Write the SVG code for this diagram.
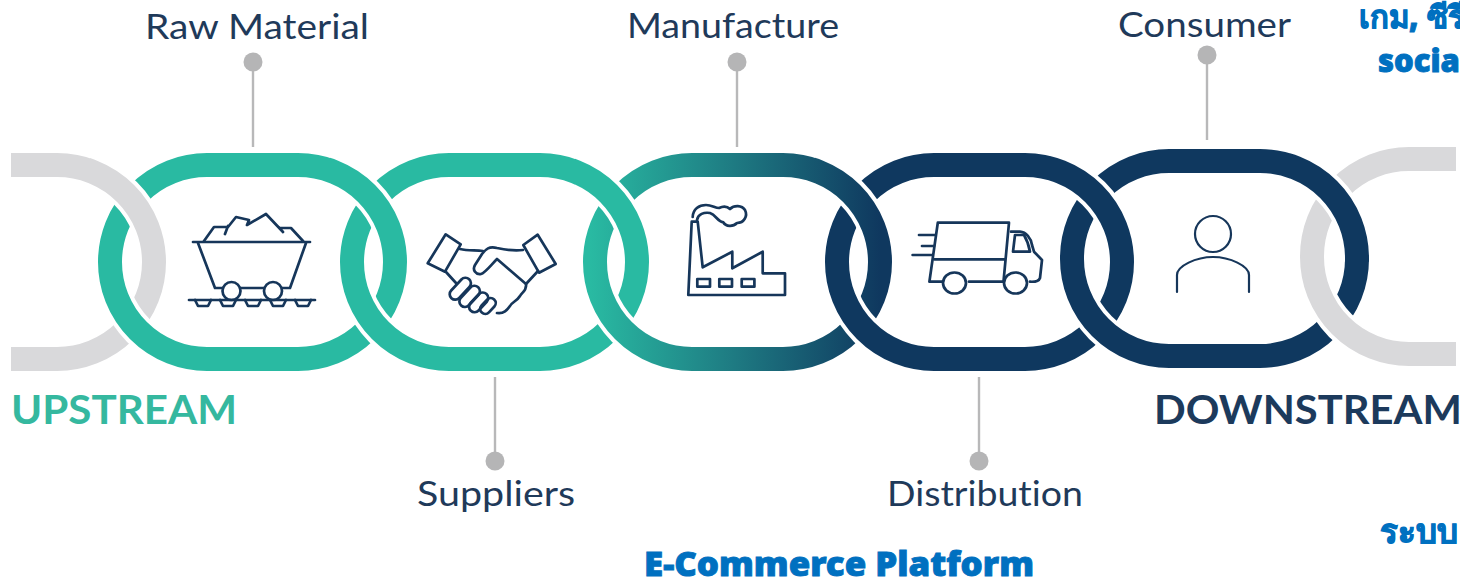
<svg xmlns="http://www.w3.org/2000/svg" width="1462" height="579" viewBox="0 0 1462 579">
<style>
.halo{fill:none;stroke:#fff;stroke-width:32}
.ring{fill:none;stroke-width:24}
.teal{stroke:#29BAA2}.navy{stroke:#0F385F}.grey{stroke:#D9D9DB}.grad{stroke:url(#g3)}
.icon{fill:none;stroke:#16365A;stroke-width:2.700;stroke-linejoin:round;stroke-linecap:round}
.label{font-family:"Lato","Noto Sans",sans-serif;font-size:35px;fill:#1F3A5A;font-variant-ligatures:none}
.stream{font-family:"Lato","Noto Sans",sans-serif;font-weight:700;font-size:41px}
.blue{font-family:"Noto Sans","Inter",sans-serif;font-weight:900;fill:#0070C0;stroke:#0070C0;stroke-width:.9px}
.stem{stroke:#B8B8B9;stroke-width:2.4;fill:none}
.dot{fill:#B5B5B6}
</style>
<defs>
<linearGradient id="g3" gradientUnits="userSpaceOnUse" x1="590" y1="0" x2="880" y2="0">
<stop offset="0" stop-color="#29BAA2"/><stop offset="0.5" stop-color="#1E7A82"/><stop offset="1" stop-color="#0F385F"/>
</linearGradient>
<clipPath id="cl"><rect x="11" y="140" width="200" height="240"/></clipPath>
<clipPath id="cr"><rect x="1270" y="130" width="186" height="250"/></clipPath>
<clipPath id="c0"><rect x="90" y="140" width="90" height="122"/></clipPath>
<clipPath id="c1"><rect x="330" y="140" width="90" height="122"/></clipPath>
<clipPath id="c2"><rect x="575" y="140" width="90" height="122"/></clipPath>
<clipPath id="c3"><rect x="815" y="140" width="90" height="122"/></clipPath>
<clipPath id="c4"><rect x="1050" y="140" width="95" height="122"/></clipPath>
<clipPath id="c5"><rect x="1290" y="130" width="90" height="132"/></clipPath>
<clipPath id="page"><rect x="0" y="0" width="1460" height="579"/></clipPath>
<rect id="l0" x="-131" y="165" width="285" height="194" rx="97"/>
<rect id="l1" x="110" y="165" width="285" height="194" rx="97"/>
<rect id="l2" x="352" y="165" width="285" height="194" rx="97"/>
<rect id="l3" x="595" y="165" width="285" height="194" rx="97"/>
<rect id="l4" x="837" y="165" width="285" height="194" rx="97"/>
<rect id="l5" x="1072" y="161" width="285" height="195" rx="97"/>
<rect id="l6" x="1312" y="159" width="285" height="195" rx="97"/>
</defs>
<g id="connectors">
<path class="stem" d="M253 62V147M737 62V147M1207 55V140M495 377V461M979 377V461"/>
<circle class="dot" cx="253" cy="62" r="9.500"/>
<circle class="dot" cx="737" cy="62" r="9.500"/>
<circle class="dot" cx="1207" cy="55" r="9.500"/>
<circle class="dot" cx="495" cy="461" r="9.500"/>
<circle class="dot" cx="979" cy="461" r="9.500"/>
</g>
<g id="link-left" clip-path="url(#cl)"><use href="#l0" class="ring grey"/></g>
<g id="raw-material">
<use href="#l1" class="halo"/><use href="#l1" class="ring teal"/>
<g class="icon">
<path d="M193 242H310M198 243L215 288H223M240 288H264M282 288H290L306 243"/>
<circle cx="231.500" cy="291" r="9"/><circle cx="273" cy="291" r="9"/>
<path d="M189 300H315"/>
<path d="M195 300L198 306H208L211 300M220 300L223 306H233L236 300M245 300L248 306H258L261 300M270 300L273 306H283L286 300M295 300L298 306H308L311 300"/>
<path d="M204 241L214 227H228L236 217L249 220L247 225L266 214L283 232M225 234L228 226M280 228H291L303 241"/>
</g>
<text class="label" x="145" y="39" textLength="224" lengthAdjust="spacingAndGlyphs">Raw Material</text>
</g>
<g id="suppliers">
<use href="#l2" class="halo"/><use href="#l2" class="ring teal"/>
<g class="icon">
<path d="M445.700 234.300L460.700 244.300L445 271.700L427.700 263.300Z"/>
<path d="M537.700 234.700L555.700 264L539 272.700L523.300 245Z"/>
<path d="M460 249C468 251 475 250 483 251M523 250C514 251 506 250 497 248C489 246 486 249 482 254L475 265C472 270 476 275 481 274C485 273 491 265 497 259L526 284L538 271"/>
<path d="M446 272L456 283M526 284C527 291 522 292 520 296C517 301 512 302 510 306C507 310 504 314 497 313"/>
<rect x="-14" y="-5.500" width="26" height="11" rx="5.500" transform="translate(461 288) rotate(-47)"/>
<rect x="-13" y="-5.500" width="25" height="11" rx="5.500" transform="translate(470 296) rotate(-47)"/>
<rect x="-12" y="-5.500" width="23" height="11" rx="5.500" transform="translate(479 302) rotate(-47)"/>
<rect x="-9" y="-5" width="18" height="10" rx="5" transform="translate(488 306) rotate(-47)"/>
</g>
<text class="label" x="417" y="506" textLength="158" lengthAdjust="spacingAndGlyphs">Suppliers</text>
</g>
<g id="manufacture">
<use href="#l3" class="halo"/><use href="#l3" class="ring grad"/>
<g class="icon">
<path d="M691.700 221.700L688.300 295H785V273.300H762.700V251.700L732.300 268.300V251.700L702.700 267.300L697.700 221.700Z"/>
<rect x="697.300" y="279" width="12.700" height="7.700"/><rect x="719.300" y="279" width="12.700" height="7.700"/><rect x="741.700" y="279" width="12.700" height="7.700"/>
<path d="M692.700 217C693 209 699 205 706 205C712 205 715 208 719 208C723 206 727 206 730 209C734 205 742 205 745 210C748 216 744 223 737 223C733 227 726 227 723 222C718 222 716 215 710 213C704 212 698 214 697 220"/>
</g>
<text class="label" x="627" y="38" textLength="212" lengthAdjust="spacingAndGlyphs">Manufacture</text>
</g>
<g id="distribution">
<use href="#l4" class="halo"/><use href="#l4" class="ring navy"/>
<g class="icon">
<path d="M937.800 222.700H1009L1003.500 281.700H969M942 281.700H929.400L937.800 222.700M934.400 259.300H1004.800"/>
<path d="M1011 231.700H1020C1026 232 1031 238 1032 245L1034 251.700L1042 260L1040 278C1039 281 1035 282 1030 281.700"/>
<path d="M1015 235H1024C1027 240 1029 246 1030 251.700H1013Z"/>
<ellipse cx="954.500" cy="283" rx="11.500" ry="10.500"/><ellipse cx="1015.500" cy="283" rx="11.500" ry="10.500"/>
<path d="M919 235H935.700M922 246H934M912.600 255H932"/>
</g>
<text class="label" x="887" y="506" textLength="196" lengthAdjust="spacingAndGlyphs">Distribution</text>
</g>
<g id="consumer">
<use href="#l5" class="halo"/><use href="#l5" class="ring navy"/>
<g class="icon" style="stroke-width:2.200">
<ellipse cx="1213" cy="234" rx="18" ry="18"/>
<path d="M1177 292V275C1177 266 1196 257 1213 257C1230 257 1249 266 1249 275V292"/>
</g>
<text class="label" x="1118" y="37" textLength="173" lengthAdjust="spacingAndGlyphs">Consumer</text>
</g>
<g id="link-right" clip-path="url(#cr)"><use href="#l6" class="halo"/><use href="#l6" class="ring grey"/></g>
<g id="link-overlaps">
<g clip-path="url(#c0)"><g clip-path="url(#cl)"><use href="#l0" class="halo"/><use href="#l0" class="ring grey"/></g></g>
<g clip-path="url(#c1)"><use href="#l1" class="halo"/><use href="#l1" class="ring teal"/></g>
<g clip-path="url(#c2)"><use href="#l2" class="halo"/><use href="#l2" class="ring teal"/></g>
<g clip-path="url(#c3)"><use href="#l3" class="halo"/><use href="#l3" class="ring grad"/></g>
<g clip-path="url(#c4)"><use href="#l4" class="halo"/><use href="#l4" class="ring navy"/></g>
<g clip-path="url(#c5)"><use href="#l5" class="halo"/><use href="#l5" class="ring navy"/></g>
</g>
<g id="stream-labels">
<text class="stream" x="11" y="424" fill="#35B89F" textLength="226" lengthAdjust="spacingAndGlyphs">UPSTREAM</text>
<text class="stream" x="1154" y="424" fill="#1C3A5C" textLength="308" lengthAdjust="spacingAndGlyphs">DOWNSTREAM</text>
</g>
<g id="blue-text" clip-path="url(#page)">
<text class="blue" x="1359" y="28" font-size="31">เกม, ซีรี</text>
<text class="blue" x="1378" y="72" font-size="31">social</text>
<text class="blue" x="1380" y="543" font-size="33">ระบบ</text>
<text class="blue" x="644" y="576" font-size="33" textLength="390" lengthAdjust="spacingAndGlyphs">E-Commerce  Platform</text>
</g>
</svg>
